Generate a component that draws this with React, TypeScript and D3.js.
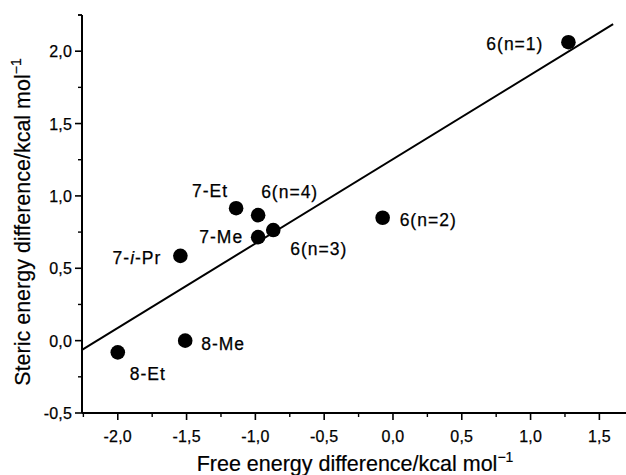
import { useMemo } from "react";
import * as d3 from "d3";

const compounds = ["7-Et", "6(n=4)", "7-Me", "6(n=3)", "6(n=2)", "7-i-Pr", "8-Me", "8-Et", "6(n=1)"];
const freeEnergy = [-1.14, -0.98, -0.98, -0.87, -0.075, -1.545, -1.51, -2.0, 1.275];
const stericEnergy = [0.915, 0.867, 0.715, 0.764, 0.849, 0.586, 0.0, -0.081, 2.062];

// linear fit drawn through the data
const fitSlope = 0.583;
const fitIntercept = 1.254;
const fitRange = [-2.26, 1.6];

const xTicks = [-2.0, -1.5, -1.0, -0.5, 0.0, 0.5, 1.0, 1.5];
const yTicks = [-0.5, 0.0, 0.5, 1.0, 1.5, 2.0];

const WIDTH = 626;
const HEIGHT = 475;
const FONT = "'Liberation Sans', Arial, sans-serif";

// label placement relative to the dot: dx, dy, anchor
const LABEL_POS: Record<string, [number, number, string]> = {
  "7-Et": [-8, -11, "end"],
  "6(n=4)": [3, -17, "start"],
  "7-Me": [-15, 6, "end"],
  "6(n=3)": [17, 25, "start"],
  "6(n=2)": [17, 8, "start"],
  "7-i-Pr": [-19, 8, "end"],
  "8-Me": [16, 9, "start"],
  "8-Et": [12, 28, "start"],
  "6(n=1)": [-25, 8, "end"],
};

const fmt = (v: number) => v.toFixed(1).replace(".", ",");

const App = () => {
  const x = useMemo(() => d3.scaleLinear().domain([-2.26, 1.75]).range([82, 82 + 4.01 * 137.6]), []);
  const y = useMemo(() => d3.scaleLinear().domain([-0.5, 2.25]).range([413, 15]), []);

  const points = compounds.map((name, i) => ({ name, fx: freeEnergy[i], sy: stericEnergy[i] }));
  const line = d3.line<number>().x((d) => x(d)).y((d) => y(fitIntercept + fitSlope * d));

  const xMinor = d3.range(-2.25, 1.76, 0.25).filter((v) => !xTicks.some((t) => Math.abs(t - v) < 1e-6));
  const yMinor = d3.range(-0.25, 2.26, 0.5);

  const x0 = x.range()[0];
  const y0 = y.range()[0];

  return (
    <svg
      width={WIDTH}
      height={HEIGHT}
      style={{ position: "absolute", left: 0, top: 0, background: "#fff" }}
      fontFamily={FONT}
    >
      {/* axes */}
      <line x1={x0} x2={WIDTH} y1={y0} y2={y0} stroke="#000" strokeWidth={2} />
      <line x1={x0} x2={x0} y1={y.range()[1]} y2={y0} stroke="#000" strokeWidth={2} />
      <line x1={x0 - 4} x2={x0} y1={y.range()[1]} y2={y.range()[1]} stroke="#000" strokeWidth={1.5} />

      <g stroke="#000" strokeWidth={0.25}>
        {xTicks.map((t) => (
          <g key={t}>
            <line x1={x(t)} x2={x(t)} y1={y0} y2={y0 + 7} strokeWidth={1.6} />
            <text x={x(t)} y={y0 + 29} textAnchor="middle" fontSize={16} letterSpacing={0.2}>
              {fmt(t)}
            </text>
          </g>
        ))}
        {xMinor.map((t) => (
          <line key={t} x1={x(t)} x2={x(t)} y1={y0} y2={y0 + 4} strokeWidth={1.4} />
        ))}
        {yTicks.map((t) => (
          <g key={t}>
            <line x1={x0 - 7} x2={x0} y1={y(t)} y2={y(t)} strokeWidth={1.6} />
            <text x={x0 - 10} y={y(t) + 6} textAnchor="end" fontSize={16} letterSpacing={0.2}>
              {fmt(t)}
            </text>
          </g>
        ))}
        {yMinor.map((t) => (
          <line key={t} x1={x0 - 4} x2={x0} y1={y(t)} y2={y(t)} strokeWidth={1.4} />
        ))}
      </g>

      {/* fit line */}
      <path d={line(fitRange) ?? ""} fill="none" stroke="#000" strokeWidth={2} />

      {/* points */}
      {points.map((p) => (
        <circle key={p.name} cx={x(p.fx)} cy={y(p.sy)} r={7.3} fill="#000" />
      ))}
      {points.map((p) => {
        const [dx, dy, anchor] = LABEL_POS[p.name];
        return (
          <text
            key={p.name}
            x={x(p.fx) + dx}
            y={y(p.sy) + dy}
            textAnchor={anchor}
            fontSize={17.5}
            letterSpacing={1}
            stroke="#000"
            strokeWidth={0.25}
          >
            {p.name === "7-i-Pr" ? (
              <>
                7-<tspan fontStyle="italic">i</tspan>-Pr
              </>
            ) : (
              p.name
            )}
          </text>
        );
      })}

      {/* axis titles */}
      <text x={355} y={471} textAnchor="middle" fontSize={21.5} stroke="#000" strokeWidth={0.2}>
        Free energy difference/kcal mol
        <tspan fontSize={14} dy={-9}>
          −1
        </tspan>
      </text>
      <text
        transform={`translate(30, 222) rotate(-90)`}
        textAnchor="middle"
        fontSize={21.5}
        stroke="#000"
        strokeWidth={0.2}
      >
        Steric energy difference/kcal mol
        <tspan fontSize={14} dy={-9}>
          −1
        </tspan>
      </text>
    </svg>
  );
};

export default App;
